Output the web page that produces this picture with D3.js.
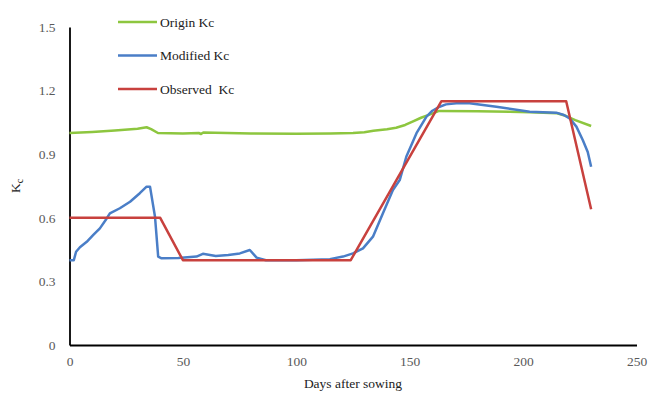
<!DOCTYPE html>
<html>
<head>
<meta charset="utf-8">
<script src="https://cdn.jsdelivr.net/npm/d3@7"></script>
<style>
  body { margin: 0; background: #fff; }
  text { font-family: "Liberation Serif", "Times New Roman", serif; }
</style>
</head>
<body>
<div id="chart"></div>
<script>
// Values (day after sowing, Kc)
const originDays = [0, 10, 20, 30, 34, 36, 39, 50, 57, 58, 59, 80, 100, 115, 125, 130, 134, 140, 144, 148, 151, 155, 159, 163, 180, 194, 203, 215, 219, 223, 230];
const originKc   = [1.0, 1.005, 1.012, 1.02, 1.027, 1.018, 1.0, 0.998, 1.0, 0.995, 1.002, 0.998, 0.997, 0.998, 1.0, 1.004, 1.011, 1.018, 1.025, 1.038, 1.053, 1.072, 1.088, 1.104, 1.103, 1.1, 1.098, 1.093, 1.08, 1.061, 1.033];

const modifiedDays = [0, 1.9, 2.9, 4.6, 7.6, 10.5, 13.4, 16.4, 17.8, 22.2, 26.7, 31, 34, 35.5, 37.7, 39.1, 40.6, 48, 56, 58.8, 64.5, 70, 75.1, 79.5, 82.5, 86.6, 100, 114.8, 120.6, 125, 129.4, 133.8, 138.2, 142.6, 145.6, 148.5, 153, 157.4, 160, 163.2, 166, 170.6, 176.4, 188.2, 202.9, 214.6, 218, 220.5, 223.5, 226.3, 228.5, 230];
const modifiedKc   = [0.40, 0.40, 0.44, 0.461, 0.487, 0.519, 0.55, 0.597, 0.621, 0.645, 0.676, 0.716, 0.747, 0.747, 0.605, 0.417, 0.409, 0.41, 0.417, 0.43, 0.42, 0.425, 0.432, 0.448, 0.412, 0.40, 0.40, 0.405, 0.417, 0.432, 0.456, 0.511, 0.621, 0.731, 0.778, 0.888, 0.999, 1.077, 1.105, 1.124, 1.135, 1.14, 1.14, 1.124, 1.10, 1.096, 1.085, 1.069, 1.03, 0.967, 0.91, 0.841];

const observedDays = [0, 40, 50, 124, 164, 219, 230];
const observedKc   = [0.6, 0.6, 0.4, 0.4, 1.15, 1.15, 0.64];

const xTicks = [0, 50, 100, 150, 200, 250];
const yTicks = [0, 0.3, 0.6, 0.9, 1.2, 1.5];

const seriesNames  = ["Origin Kc", "Modified Kc", "Observed  Kc"];
const seriesColors = ["#8DC63F", "#4A7EC7", "#C8413E"];

const width = 649;
const height = 398;
const margin = { top: 27, right: 12.5, bottom: 53, left: 69.5 };

const svg = d3.select("#chart")
  .append("svg")
  .attr("width", width)
  .attr("height", height);

const x = d3.scaleLinear()
  .domain([0, 250])
  .range([margin.left, width - margin.right]);

const y = d3.scaleLinear()
  .domain([0, 1.5])
  .range([height - margin.bottom, margin.top]);

// axes
const xAxis = svg.append("g")
  .attr("transform", `translate(0, ${height - margin.bottom})`)
  .call(d3.axisBottom(x).tickValues(xTicks).tickSize(0).tickPadding(11).tickFormat(d3.format("d")));

const yAxis = svg.append("g")
  .attr("transform", `translate(${margin.left}, 0)`)
  .call(d3.axisLeft(y).tickValues(yTicks).tickSize(0).tickPadding(14).tickFormat(d => d === 0 ? "0" : d3.format(".1f")(d)));

[xAxis, yAxis].forEach(a => {
  a.select(".domain").attr("stroke", "#000").attr("stroke-width", 1.8);
  a.selectAll("text")
    .attr("fill", "#595959")
    .style("font-family", '"Liberation Serif", serif')
    .style("font-size", "13.5px");
});

// lines
const line = d3.line()
  .x(d => x(d[0]))
  .y(d => y(d[1]));

const seriesData = [
  d3.zip(originDays, originKc),
  d3.zip(modifiedDays, modifiedKc),
  d3.zip(observedDays, observedKc)
];

seriesData.forEach((data, i) => {
  svg.append("path")
    .datum(data)
    .attr("fill", "none")
    .attr("stroke", seriesColors[i])
    .attr("stroke-width", 2.5)
    .attr("stroke-linejoin", "round")
    .attr("d", line);
});

// axis titles
svg.append("text")
  .attr("x", (margin.left + width - margin.right) / 2)
  .attr("y", 388)
  .attr("text-anchor", "middle")
  .attr("fill", "#222")
  .style("font-size", "13.5px")
  .text("Days after sowing");

const yTitle = svg.append("text")
  .attr("transform", "translate(20, 186) rotate(-90)")
  .attr("text-anchor", "middle")
  .attr("fill", "#222")
  .style("font-size", "13.5px");
yTitle.append("tspan").text("K");
yTitle.append("tspan").attr("dy", 3).style("font-size", "10px").text("c");

// legend
const legend = svg.append("g");
seriesNames.forEach((name, i) => {
  const ly = 22 + i * 33.5;
  legend.append("line")
    .attr("x1", 118).attr("x2", 157)
    .attr("y1", ly).attr("y2", ly)
    .attr("stroke", seriesColors[i])
    .attr("stroke-width", 2.5);
  legend.append("text")
    .attr("x", 160)
    .attr("y", ly + 4.5)
    .attr("fill", "#222")
    .attr("xml:space", "preserve")
    .style("white-space", "pre")
    .style("font-size", "13.5px")
    .text(name);
});
</script>
</body>
</html>
